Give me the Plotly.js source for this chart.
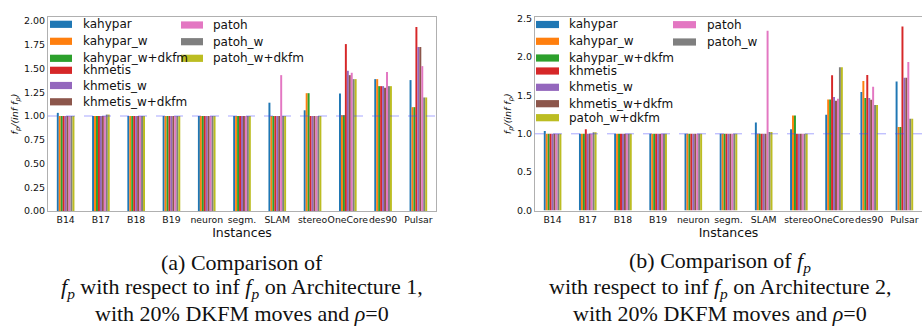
<!DOCTYPE html>
<html><head><meta charset="utf-8">
<script src="https://cdn.plot.ly/plotly-3.0.1.min.js"></script>
<style>html,body{margin:0;padding:0;background:#fff}#chart{width:922px;height:331px}</style>
</head><body><div id="chart"></div>
<script>
// ---- data ----
const instances = ['B14','B17','B18','B19','neuron','segm.','SLAM','stereo','OneCore','des90','Pulsar'];
const seriesNames = ['kahypar','kahypar_w','kahypar_w+dkfm','khmetis','khmetis_w','khmetis_w+dkfm','patoh','patoh_w','patoh_w+dkfm'];
const seriesColors = ['#1f77b4','#ff7f0e','#2ca02c','#d62728','#9467bd','#8c564b','#e377c2','#7f7f7f','#bcbd22'];

// Architecture 1
const arch1_kahypar        = [1.033,1.00,1.00,1.00,1.00,1.00,1.14,1.06,1.238,1.388,1.378];
const arch1_kahypar_w      = [1.00,1.00,1.00,1.00,1.00,1.00,1.00,1.24,1.009,1.388,1.093];
const arch1_kahypar_w_dkfm = [1.00,1.00,1.00,1.00,1.00,1.00,1.00,1.24,1.009,1.314,1.093];
const arch1_khmetis        = [1.00,1.00,1.00,1.00,1.00,1.00,1.00,1.00,1.757,1.314,1.937];
const arch1_khmetis_w      = [1.00,1.00,1.00,1.00,1.00,1.00,1.00,1.00,1.476,1.314,1.726];
const arch1_khmetis_w_dkfm = [1.00,1.00,1.00,1.00,1.00,1.00,1.00,1.00,1.43,1.297,1.726];
const arch1_patoh          = [1.00,1.00,1.00,1.00,1.00,1.00,1.43,1.00,1.455,1.462,1.525];
const arch1_patoh_w        = [1.00,1.015,1.00,1.00,1.00,1.00,1.00,1.00,1.388,1.314,1.195];
const arch1_patoh_w_dkfm   = [1.00,1.015,1.00,1.00,1.00,1.00,1.00,1.00,1.388,1.314,1.195];

// Architecture 2
const arch2_kahypar        = [1.037,1.00,1.00,1.00,1.00,1.00,1.147,1.06,1.25,1.545,1.683];
const arch2_kahypar_w      = [1.00,1.00,1.00,1.00,1.00,1.00,1.00,1.24,1.446,1.688,1.09];
const arch2_kahypar_w_dkfm = [1.00,1.00,1.00,1.00,1.00,1.00,1.00,1.24,1.446,1.466,1.09];
const arch2_khmetis        = [1.00,1.06,1.00,1.00,1.00,1.00,1.00,1.00,1.765,1.768,2.40];
const arch2_khmetis_w      = [1.00,1.00,1.00,1.00,1.00,1.00,1.00,1.00,1.48,1.466,1.73];
const arch2_khmetis_w_dkfm = [1.00,1.00,1.00,1.00,1.00,1.00,1.00,1.00,1.43,1.443,1.73];
const arch2_patoh          = [1.00,1.00,1.00,1.00,1.00,1.00,2.343,1.00,1.458,1.612,1.937];
const arch2_patoh_w        = [1.00,1.02,1.00,1.00,1.00,1.00,1.025,1.00,1.868,1.374,1.195];
const arch2_patoh_w_dkfm   = [1.00,1.02,1.00,1.00,1.00,1.00,1.025,1.00,1.868,1.374,1.195];

const arch1Values = [arch1_kahypar,arch1_kahypar_w,arch1_kahypar_w_dkfm,arch1_khmetis,arch1_khmetis_w,arch1_khmetis_w_dkfm,arch1_patoh,arch1_patoh_w,arch1_patoh_w_dkfm];
const arch2Values = [arch2_kahypar,arch2_kahypar_w,arch2_kahypar_w_dkfm,arch2_khmetis,arch2_khmetis_w,arch2_khmetis_w_dkfm,arch2_patoh,arch2_patoh_w,arch2_patoh_w_dkfm];

const arch1Ticks = [0,0.25,0.5,0.75,1.0,1.25,1.5,1.75,2.0];
const arch2Ticks = [0,0.5,1.0,1.5,2.0,2.5];

// legend column membership (series indices), as in the reference's two-column legends
const arch1LegendCol1 = [0,1,2,3,4,5];
const arch1LegendCol2 = [6,7,8];
const arch2LegendCol1 = [0,1,2,3,4,5,8];
const arch2LegendCol2 = [6,7];

// ---- layout helpers ----
const W = 922, H = 331;
const px = x => x / W;
const py = y => (H - y) / H;

const traces = [];
seriesNames.forEach((name, i) => {
  traces.push({type:'bar', x: instances, y: arch1Values[i], name: name, xaxis:'x', yaxis:'y',
    marker:{color: seriesColors[i], line:{width:0}}, showlegend:false});
});
seriesNames.forEach((name, i) => {
  traces.push({type:'bar', x: instances, y: arch2Values[i], name: name, xaxis:'x2', yaxis:'y2',
    marker:{color: seriesColors[i], line:{width:0}}, showlegend:false});
});

const xTickFont = {family:'DejaVu Sans', size:9.3, color:'#111'};
const yTickFont = {family:'DejaVu Sans', size:9.5, color:'#111'};
const axisCommon = {showline:true, mirror:true, linecolor:'#b0b0b0', linewidth:1, showgrid:false, zeroline:false,
  ticks:''};

const shapes = [
  {type:'line', xref:'x domain', yref:'y', x0:0, x1:1, y0:1, y1:1, line:{color:'rgba(60,60,255,0.45)', width:1, dash:'dash'}},
  {type:'line', xref:'x2 domain', yref:'y2', x0:0, x1:1, y0:1, y1:1, line:{color:'rgba(60,60,255,0.45)', width:1, dash:'dash'}}
];
const annotations = [];

// legend entries: swatch + label (positions in pixels)
const legendFont = {family:'DejaVu Sans', size:12, color:'#111'};
function addLegendColumn(indices, rowsY, swatchX0, swatchX1, textX) {
  indices.forEach((si, k) => {
    const yc = rowsY[k];
    shapes.push({type:'rect', xref:'paper', yref:'paper', x0:px(swatchX0), x1:px(swatchX1), y0:py(yc+3.6), y1:py(yc-3.6),
      fillcolor: seriesColors[si], line:{width:0}, layer:'above'});
    annotations.push({xref:'paper', yref:'paper', x:px(textX), y:py(yc), text: seriesNames[si], showarrow:false,
      xanchor:'left', yanchor:'middle', font: legendFont});
  });
}
addLegendColumn(arch1LegendCol1, [24.3,41.3,58.3,70.3,85.5,101.8], 50, 72, 81);
addLegendColumn(arch1LegendCol2, [25,41.7,58.3], 181, 203, 211);
addLegendColumn(arch2LegendCol1, [24.5,41.3,58,71,87.3,103.7,117.7], 536, 559, 567);
addLegendColumn(arch2LegendCol2, [24.7,42], 673, 696, 705);

// captions
const serif = {family:'Liberation Serif', size:22, color:'#111'};
const captionLines1 = ['(a) Comparison of',
  '<i>f</i><sub><i>p</i></sub> with respect to inf <i>f</i><sub><i>p</i></sub> on Architecture 1,',
  'with 20% DKFM moves and <i>ρ</i>=0'];
const captionLines2 = ['(b) Comparison of <i>f</i><sub><i>p</i></sub>',
  'with respect to inf <i>f</i><sub><i>p</i></sub> on Architecture 2,',
  'with 20% DKFM moves and <i>ρ</i>=0'];
const captionY = [262, 288, 313];
captionLines1.forEach((t, k) => annotations.push({xref:'paper', yref:'paper', x:px(242), y:py(captionY[k]), text:t,
  showarrow:false, xanchor:'center', yanchor:'middle', font:serif}));
captionLines2.forEach((t, k) => annotations.push({xref:'paper', yref:'paper', x:px(720), y:py(captionY[k]), text:t,
  showarrow:false, xanchor:'center', yanchor:'middle', font:serif}));

const yTitle = '<i>f</i><sub><i>p</i></sub><i>/(inf f</i><sub><i>p</i></sub><i>)</i>';
const xTitleFont = {family:'DejaVu Sans', size:12.5, color:'#111'};
const layout = {
  width: W, height: H, margin:{l:0,r:0,t:0,b:0}, paper_bgcolor:'#fff', plot_bgcolor:'#fff',
  barmode:'group', bargap:0.5, bargroupgap:0, showlegend:false,
  xaxis: Object.assign({}, axisCommon, {domain:[px(48), px(436)], anchor:'y', range:[-0.5,10.5], tickangle:0,
    tickfont:xTickFont, title:{text:'Instances', font:xTitleFont, standoff:0}}),
  yaxis: Object.assign({}, axisCommon, {domain:[py(211), py(17)], anchor:'x', range:[0,2.042],
    tickvals: arch1Ticks, tickformat:'.2f', tickfont:yTickFont,
    title:{text:yTitle, font:{family:'DejaVu Sans', size:9.5, color:'#111'}, standoff:3}}),
  xaxis2: Object.assign({}, axisCommon, {domain:[px(535), 1], anchor:'y2', range:[-0.5,10.5], tickangle:0,
    tickfont:xTickFont, title:{text:'Instances', font:xTitleFont, standoff:0}}),
  yaxis2: Object.assign({}, axisCommon, {domain:[py(210.5), py(17)], anchor:'x2', range:[0,2.523],
    tickvals: arch2Ticks, tickformat:'.1f', tickfont:yTickFont,
    title:{text:yTitle, font:{family:'DejaVu Sans', size:9.5, color:'#111'}, standoff:3}}),
  shapes: shapes,
  annotations: annotations
};

Plotly.newPlot('chart', traces, layout, {staticPlot:true, displayModeBar:false});
</script>
</body></html>
